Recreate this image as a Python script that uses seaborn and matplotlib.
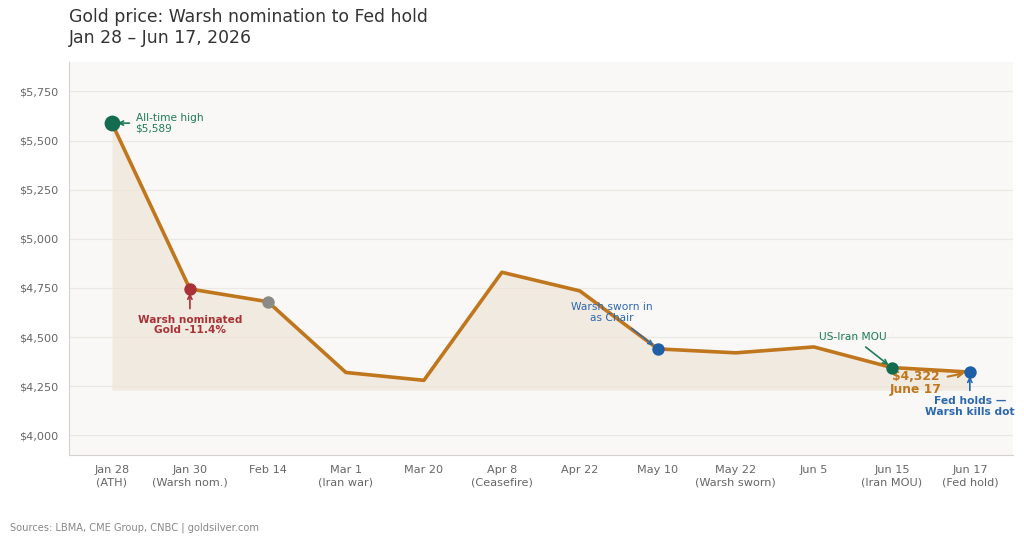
import matplotlib
matplotlib.use('Agg')
import matplotlib.pyplot as plt
import seaborn as sns
import pandas as pd

# Gold price checkpoints
dates = ['Jan 28', 'Jan 30', 'Feb 14', 'Mar 1', 'Mar 20', 'Apr 8',
         'Apr 22', 'May 10', 'May 22', 'Jun 5', 'Jun 15', 'Jun 17']
events = ['ATH', 'Warsh nom.', '', 'Iran war', '', 'Ceasefire',
          '', '', 'Warsh sworn', '', 'Iran MOU', 'Fed hold']
prices = [5589, 4745, 4680, 4320, 4280, 4830, 4735, 4440, 4420, 4450, 4345, 4322]

# highlighted points
marker_idx = [0, 1, 2, 7, 10, 11]
marker_colors = ['#136b50', '#a83236', '#8a8a86', '#1f5fa5', '#136b50', '#1f5fa5']
marker_sizes = [130, 80, 80, 80, 80, 80]

tick_labels = [d if e == '' else f'{d}\n({e})' for d, e in zip(dates, events)]

df = pd.DataFrame({'idx': range(len(dates)), 'price': prices})

sns.set_style('white')
plt.rcParams['font.family'] = ['DejaVu Sans']

fig = plt.figure(figsize=(10.24, 5.44), dpi=100)
ax = fig.add_axes([0.0674, 0.1636, 0.9216, 0.7224])
ax.set_facecolor('#f9f8f6')

line_color = '#c0761c'
ax.fill_between(df['idx'], prices, 4230, color='#ede2d4', alpha=0.6, lw=0, zorder=1)
sns.lineplot(data=df, x='idx', y='price', color=line_color, linewidth=2.6, ax=ax, zorder=3)

pts = df.iloc[marker_idx].copy()
pts['c'] = marker_colors
pts['s'] = marker_sizes
for _, r in pts.iterrows():
    ax.scatter(r['idx'], r['price'], s=r['s'], color=r['c'], zorder=5, linewidths=0)

ax.set_xlim(-0.55, 11.55)
ax.set_ylim(3900, 5900)
ax.set_yticks(range(4000, 5751, 250))
ax.set_yticklabels([f'${v:,}' for v in range(4000, 5751, 250)])
ax.set_xticks(range(len(dates)))
ax.set_xticklabels(tick_labels)
ax.set_xlabel('')
ax.set_ylabel('')
ax.grid(axis='y', color='#ebe9e6', linewidth=0.9)
ax.set_axisbelow(True)
for s in ['top', 'right']:
    ax.spines[s].set_visible(False)
for s in ['left', 'bottom']:
    ax.spines[s].set_color('#d6d3cf')
ax.tick_params(axis='both', colors='#666666', labelsize=8.1, length=4, width=0.8)
ax.tick_params(axis='both', color='#555555')

green = '#1e7a5c'
red = '#a83236'
blue = '#2a68b0'

ax.annotate('All-time high\n$5,589', xy=(0, prices[0]), xytext=(17, 0),
            textcoords='offset points', ha='left', va='center', fontsize=7.6,
            color=green, linespacing=1.1,
            arrowprops=dict(arrowstyle='->', color=green, lw=1.2, shrinkB=4))
ax.annotate('Warsh nominated\nGold -11.4%', xy=(1, prices[1]), xytext=(0, -26),
            textcoords='offset points', ha='center', va='center', fontsize=7.6,
            color=red, fontweight='bold', linespacing=1.1,
            arrowprops=dict(arrowstyle='->', color=red, lw=1.2, shrinkB=3))
ax.annotate('Warsh sworn in\nas Chair', xy=(7, prices[7]), xytext=(-33, 26),
            textcoords='offset points', ha='center', va='center', fontsize=7.7,
            color=blue, linespacing=1.1,
            arrowprops=dict(arrowstyle='->', color=blue, lw=1.0, shrinkB=4))
ax.annotate('US-Iran MOU', xy=(10, prices[10]), xytext=(-28, 22),
            textcoords='offset points', ha='center', va='center', fontsize=7.7,
            color=green,
            arrowprops=dict(arrowstyle='->', color=green, lw=1.2, shrinkB=3))
ax.annotate('$4,322\nJune 17', xy=(11, prices[11]), xytext=(-39, -8),
            textcoords='offset points', ha='center', va='center', fontsize=8.8,
            color=line_color, fontweight='bold', linespacing=1.05,
            arrowprops=dict(arrowstyle='->', color=line_color, lw=1.5, shrinkB=4))
ax.annotate('Fed holds —\nWarsh kills dot', xy=(11, prices[11]), xytext=(0, -25),
            textcoords='offset points', ha='center', va='center', fontsize=7.7,
            color=blue, fontweight='bold', linespacing=1.1,
            arrowprops=dict(arrowstyle='->', color=blue, lw=1.2, shrinkB=3))

fig.text(0.0674, 0.950, 'Gold price: Warsh nomination to Fed hold\nJan 28 – Jun 17, 2026',
         ha='left', va='center', fontsize=12.4, color='#333333', linespacing=1.2)
fig.text(0.0098, 0.029, 'Sources: LBMA, CME Group, CNBC | goldsilver.com',
         ha='left', va='center', fontsize=7.1, color='#888888')

fig.savefig('out.png', dpi=100)
